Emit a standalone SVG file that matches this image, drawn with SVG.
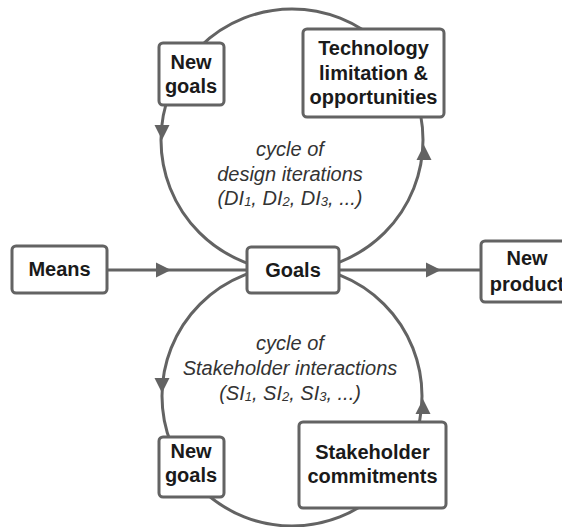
<svg xmlns="http://www.w3.org/2000/svg" width="562" height="527" viewBox="0 0 562 527">
<style>
.ln{fill:none;stroke:#636363;stroke-width:3}
.box{fill:#fff;stroke:#636363;stroke-width:3}
.ah{fill:#636363}
.lb{font-family:"Liberation Sans",Arial,sans-serif;font-weight:bold;font-size:20px;fill:#1a1a1a;text-anchor:middle}
.it{font-family:"Liberation Sans",Arial,sans-serif;font-style:italic;font-size:20px;fill:#333;text-anchor:middle}
.sb{font-size:13px}
</style>
<defs>
<path id="arrow" d="M0,0 L-15,-7.5 L-15,7.5 Z"/>
</defs>
<rect width="562" height="527" fill="#fff"/>
<g id="connectors">
<circle class="ln" cx="292" cy="140" r="131"/>
<circle class="ln" cx="292" cy="396" r="130"/>
<line class="ln" x1="107" y1="270" x2="247" y2="270"/>
<line class="ln" x1="339" y1="270" x2="481" y2="270"/>
<use href="#arrow" class="ah" transform="translate(171,270)"/>
<use href="#arrow" class="ah" transform="translate(441,270)"/>
<use href="#arrow" class="ah" transform="translate(162,140) rotate(90)"/>
<use href="#arrow" class="ah" transform="translate(424,145) rotate(-90)"/>
<use href="#arrow" class="ah" transform="translate(162,393) rotate(90)"/>
<use href="#arrow" class="ah" transform="translate(423,399) rotate(-90)"/>
</g>
<g id="labels">
<text class="it" x="290" y="156">cycle of</text>
<text class="it" x="290" y="181">design iterations</text>
<text class="it" x="290" y="205">(DI<tspan class="sb" dy="1">1</tspan><tspan dy="-1">, DI</tspan><tspan class="sb" dy="1">2</tspan><tspan dy="-1">, DI</tspan><tspan class="sb" dy="1">3</tspan><tspan dy="-1">, ...)</tspan></text>
<text class="it" x="290" y="350">cycle of</text>
<text class="it" x="290" y="375">Stakeholder interactions</text>
<text class="it" x="290" y="400">(SI<tspan class="sb" dy="1">1</tspan><tspan dy="-1">, SI</tspan><tspan class="sb" dy="1">2</tspan><tspan dy="-1">, SI</tspan><tspan class="sb" dy="1">3</tspan><tspan dy="-1">, ...)</tspan></text>
</g>
<g id="means">
<rect class="box" x="12" y="246" width="95" height="47" rx="4"/>
<text class="lb" x="59.5" y="276">Means</text>
</g>
<g id="goals">
<rect class="box" x="247" y="247" width="92" height="46" rx="4"/>
<text class="lb" x="293" y="277">Goals</text>
</g>
<g id="new-product">
<rect class="box" x="481" y="241" width="92" height="61" rx="4"/>
<text class="lb" x="527" y="265">New</text>
<text class="lb" x="527" y="291">product</text>
</g>
<g id="new-goals-top">
<rect class="box" x="159" y="43" width="65" height="62" rx="4"/>
<text class="lb" x="191" y="69">New</text>
<text class="lb" x="191" y="93">goals</text>
</g>
<g id="technology">
<rect class="box" x="303" y="29" width="141" height="88" rx="4"/>
<text class="lb" x="373.5" y="55">Technology</text>
<text class="lb" x="373.5" y="80">limitation &amp;</text>
<text class="lb" x="373.5" y="104">opportunities</text>
</g>
<g id="new-goals-bottom">
<rect class="box" x="159" y="437" width="65" height="60" rx="4"/>
<text class="lb" x="191" y="458">New</text>
<text class="lb" x="191" y="482">goals</text>
</g>
<g id="stakeholder">
<rect class="box" x="299" y="422" width="147" height="86" rx="4"/>
<text class="lb" x="372.5" y="459">Stakeholder</text>
<text class="lb" x="372.5" y="483">commitments</text>
</g>
</svg>
